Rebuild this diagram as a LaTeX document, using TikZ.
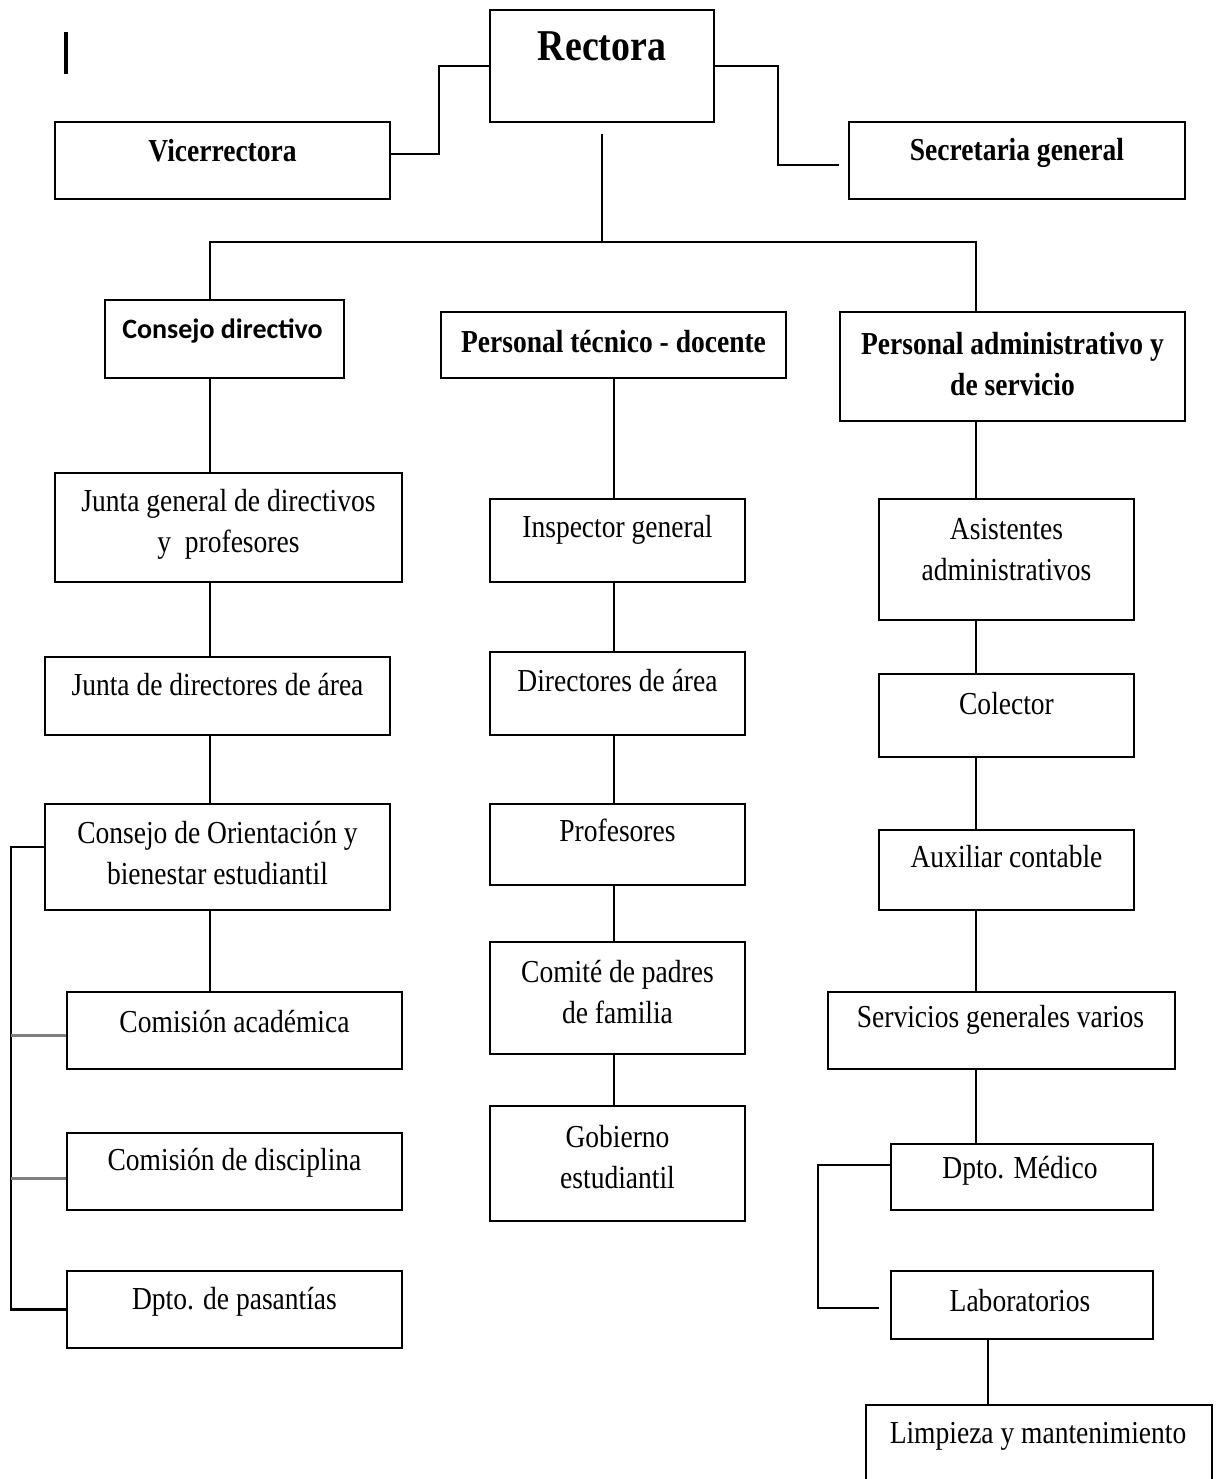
\documentclass[tikz,border=0pt]{standalone}
\usepackage{fontspec}
\newfontfamily\orgserif[FakeStretch=0.86]{Liberation Serif}
\newfontfamily\orgsans{Carlito}
\newcommand\obox[5]{\node[box, minimum width={#4-#2}, minimum height={#5-#3}] (#1) at ({(#2+#4)/2},{(#3+#5)/2}) {};}
\begin{document}
\begin{tikzpicture}[x=1pt,y=-1pt,
  box/.style={draw, line width=2.3pt, inner sep=0pt, fill=white},
  lbl/.style={font=\orgserif\fontsize{32}{41}\selectfont, align=center, inner sep=0pt, anchor=center},
  ttl/.style={lbl, font=\orgserif\bfseries\fontsize{32}{41}\selectfont},
  conn/.style={line width=2.2pt},
  grayconn/.style={line width=3pt, gray}]
\useasboundingbox[fill=white] (0,0) rectangle (1219,1479);

% stray mark
\coordinate (m1) at (66,32);
\coordinate (m2) at (66,74);
\draw[line width=4pt] (m1) -- (m2);

% top level
\obox{rec}{490}{10}{714}{122}
\obox{vic}{55}{122}{390}{199}
\obox{sec}{849}{122}{1185}{199}
\path (rec.north) ++(0,37) node[ttl, font=\orgserif\bfseries\fontsize{44}{50}\selectfont] (rec-t) {Rectora};
\path (vic.north) ++(0,30) node[ttl] (vic-t) {Vicerrectora};
\path (sec.north) ++(0,32) node[ttl] (sec-t) {Secretaria general};

% second level
\obox{cd}{105}{300}{344}{378}
\obox{pt}{441}{312}{786}{378}
\obox{pa}{840}{312}{1185}{421}
\path (cd.north) ++(-2,32) node[lbl, font=\orgsans\bfseries\fontsize{28}{32}\selectfont] (cd-t) {Consejo directivo};
\path (pt.north) ++(0,31) node[ttl] (pt-t) {Personal técnico - docente};
\path (pa.north) ++(0,53) node[ttl] (pa-t) {Personal administrativo y\\de servicio};

% left column
\obox{jg}{55}{473}{402}{582}
\obox{jd}{45}{657}{390}{735}
\obox{cob}{45}{804}{390}{910}
\obox{ca}{67}{992}{402}{1069}
\obox{cdis}{67}{1133}{402}{1210}
\obox{dp}{67}{1271}{402}{1348}
\path (jg.north) ++(0,52) node[lbl] (jg-t) {Junta general de directivos\\y\ \ profesores};
\path (jd.north) ++(0,29) node[lbl] (jd-t) {Junta de directores de área};
\path (cob.north) ++(0,50) node[lbl] (cob-t) {Consejo de Orientación y\\bienestar estudiantil};
\path (ca.north) ++(0,31) node[lbl] (ca-t) {Comisión académica};
\path (cdis.north) ++(0,31) node[lbl] (cdis-t) {Comisión de disciplina};
\path (dp.north) ++(0,32) node[lbl] (dp-t) {Dpto. de pasantías};

% middle column
\obox{ig}{490}{499}{745}{582}
\obox{da}{490}{652}{745}{735}
\obox{pr}{490}{804}{745}{885}
\obox{cp}{490}{942}{745}{1054}
\obox{ge}{490}{1106}{745}{1221}
\path (ig.north) ++(0,32) node[lbl] (ig-t) {Inspector general};
\path (da.north) ++(0,30) node[lbl] (da-t) {Directores de área};
\path (pr.north) ++(0,28) node[lbl] (pr-t) {Profesores};
\path (cp.north) ++(0,51) node[lbl] (cp-t) {Comité de padres\\de familia};
\path (ge.north) ++(0,52) node[lbl] (ge-t) {Gobierno\\estudiantil};

% right column
\obox{as}{879}{499}{1134}{620}
\obox{col}{879}{674}{1134}{757}
\obox{aux}{879}{830}{1134}{910}
\obox{sg}{828}{992}{1175}{1069}
\obox{med}{891}{1144}{1153}{1210}
\obox{lab}{891}{1271}{1153}{1339}
\obox{lim}{866}{1405}{1212}{1500}
\path (as.north) ++(0,52) node[lbl] (as-t) {Asistentes\\administrativos};
\path (col.north) ++(0,31) node[lbl] (col-t) {Colector};
\path (aux.north) ++(0,28) node[lbl] (aux-t) {Auxiliar contable};
\path (sg.north) ++(-1,29) node[lbl] (sg-t) {Servicios generales varios};
\path (med.north) ++(-2,28) node[lbl] (med-t) {Dpto. Médico};
\path (lab.north) ++(-2,31) node[lbl] (lab-t) {Laboratorios};
\path (lim.north) ++(-1,32) node[lbl] (lim-t) {Limpieza y mantenimiento};

% x positions of trunk lines
\coordinate (xL) at (210,0);
\coordinate (xM) at (614,0);
\coordinate (xR) at (976,0);
\coordinate (xR2) at (988,0);
\coordinate (xB) at (11,0);
\coordinate (xB2) at (818,0);
\coordinate (hub) at (602,242);

% top connectors
\draw[conn] (rec.west) -- ++(-50,0) |- ([yshift=6.5pt]vic.east);
\draw[conn] (rec.east) -- ++(63,0) |- ([xshift=-9pt,yshift=-4.5pt]sec.west);
\draw[conn] ([yshift=-11pt]rec.south) -- (hub);
\draw[conn] (hub) -| (cd.north -| xL);
\draw[conn] (hub) -| (pa.north -| xR);

% left column connectors
\draw[conn] (cd.south -| xL) -- (jg.north -| xL);
\draw[conn] (jg.south -| xL) -- (jd.north -| xL);
\draw[conn] (jd.south -| xL) -- (cob.north -| xL);
\draw[conn] (cob.south -| xL) -- (ca.north -| xL);
\draw[conn] ([yshift=10pt]cob.west) -| (dp.west -| xB) -- (dp.west);
\draw[grayconn] ([yshift=-4.5pt]ca.west -| xB) -- ([yshift=-4.5pt]ca.west);
\draw[grayconn] ([yshift=-6.5pt]cdis.west -| xB) -- ([yshift=-6.5pt]cdis.west);

% middle column connectors
\draw[conn] (pt.south -| xM) -- (ig.north -| xM);
\draw[conn] (ig.south -| xM) -- (da.north -| xM);
\draw[conn] (da.south -| xM) -- (pr.north -| xM);
\draw[conn] (pr.south -| xM) -- (cp.north -| xM);
\draw[conn] (cp.south -| xM) -- (ge.north -| xM);

% right column connectors
\draw[conn] (pa.south -| xR) -- (as.north -| xR);
\draw[conn] (as.south -| xR) -- (col.north -| xR);
\draw[conn] (col.south -| xR) -- (aux.north -| xR);
\draw[conn] (aux.south -| xR) -- (sg.north -| xR);
\draw[conn] (sg.south -| xR) -- (med.north -| xR);
\draw[conn] ([yshift=12pt]med.west) -| ([yshift=-3pt]lab.west -| xB2) -- ([xshift=-11pt,yshift=-3pt]lab.west);
\draw[conn] (lab.south -| xR2) -- (lim.north -| xR2);
\end{tikzpicture}
\end{document}
